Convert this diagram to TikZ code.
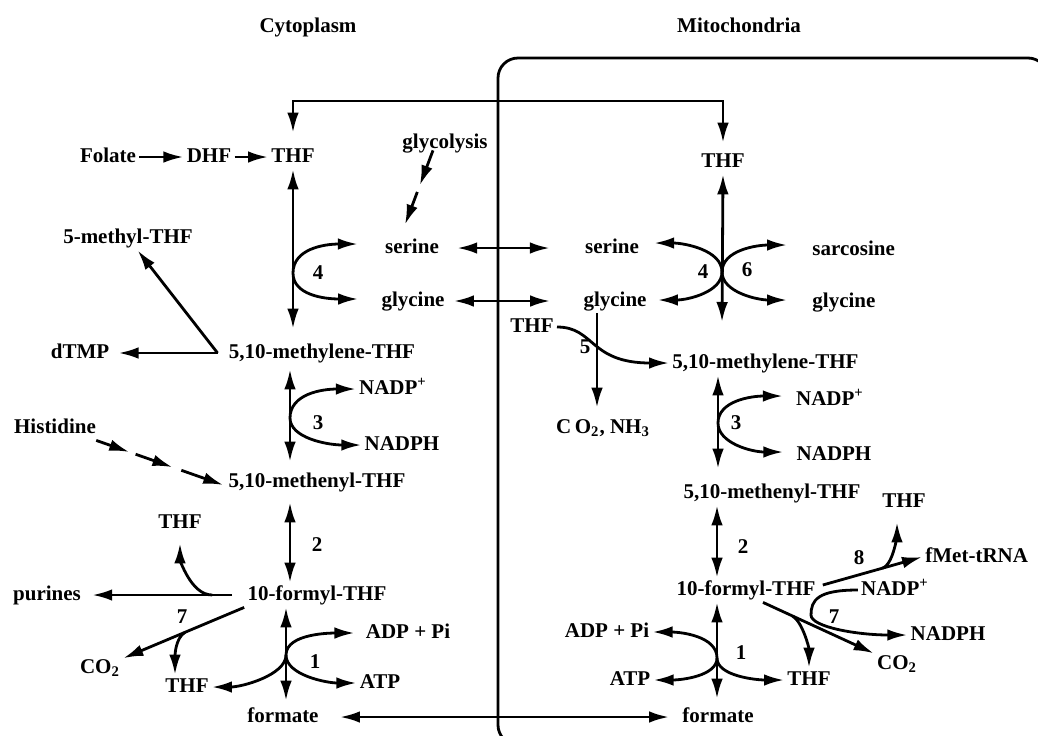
\documentclass[tikz,border=0pt]{standalone}
\usepackage{fontspec}
\setmainfont{Liberation Serif}
\usetikzlibrary{arrows.meta, positioning, calc}

\begin{document}
\begin{tikzpicture}[
    x=0.5pt, y=-0.5pt,
    font=\fontsize{10.5}{12}\selectfont\bfseries,
    >={Latex[length=10pt,width=5.8pt]},
    met/.style={inner sep=1.5pt, text height=7pt, text depth=2pt},
    enz/.style={inner sep=1pt},
    line/.style={->, line width=1.4pt},
    both/.style={<->, line width=1.4pt},
    bare/.style={line width=1.4pt}
]
\useasboundingbox (0,0) rectangle (1038,735);

% Compartments
\node[met] (cytoT) at (308,27) {Cytoplasm};
\node[met] (mitoT) at (739,27) {Mitochondria};
\draw[bare, rounded corners=10pt] (498,58) rectangle (1048,745);

% Cytoplasm metabolites
\node[met] (folate) at (108,157) {Folate};
\node[met, right=22pt of folate] (dhf) {DHF};
\node[met] (cthf) at (293,157) {THF};
\node[met] (glyco) at (445,143) {glycolysis};
\node[met] (mthfc) at (128,238) {5-methyl-THF};
\node[met] (cser) at (412,248) {serine};
\node[met] (cgly) at (413,301) {glycine};
\node[met] (dtmp) at (80,353) {dTMP};
\node[met] (cmeth) at (322,353) {5,10-methylene-THF};
\node[met] (cnadp) at (393,389) {NADP\textsuperscript{+}};
\node[met] (cnadph) at (402,445) {NADPH};
\node[met] (hist) at (55,428) {Histidine};
\node[met] (cmeny) at (317,482) {5,10-methenyl-THF};
\node[met] (cthfp) at (180,523) {THF};
\node[met] (purines) at (47,595) {purines};
\node[met] (cform) at (317,595) {10-formyl-THF};
\node[met] (cco2) at (100,668) {CO\textsubscript{2}};
\node[met] (cthfb) at (187,687) {THF};
\node[met] (cadp) at (408,633) {ADP + Pi};
\node[met] (catp) at (380,683) {ATP};
\node[met] (cfmt) at (283,717) {formate};

% Mitochondria metabolites
\node[met] (mthf) at (723,162) {THF};
\node[met] (mser) at (612,248) {serine};
\node[met] (mgly) at (615,301) {glycine};
\node[met, anchor=west] (sarc) at (809,250) {sarcosine};
\node[met, anchor=west] (mglyb) at (809,302) {glycine};
\node[met] (mthfg) at (532,327) {THF};
\node[met] (mco2n) at (603,428) {C\,O\textsubscript{2}, NH\textsubscript{3}};
\node[met, anchor=west] (mmeth) at (669,363) {5,10-methylene-THF};
\node[met] (mnadp) at (830,400) {NADP\textsuperscript{+}};
\node[met] (mnadph) at (834,455) {NADPH};
\node[met] (mmeny) at (772,493) {5,10-methenyl-THF};
\node[met] (mthft) at (904,502) {THF};
\node[met, anchor=west] (fmet) at (922,557) {fMet-tRNA};
\node[met] (mform) at (746,590) {10-formyl-THF};
\node[met] (mnadpb) at (895,590) {NADP\textsuperscript{+}};
\node[met] (mnadphb) at (948,635) {NADPH};
\node[met] (mco2) at (897,664) {CO\textsubscript{2}};
\node[met] (madp) at (607,632) {ADP + Pi};
\node[met] (matp) at (630,680) {ATP};
\node[met] (mthfb) at (809,680) {THF};
\node[met] (mfmt) at (718,717) {formate};

% Enzyme numbers
\node[enz] (c4) at (318,273) {4};
\node[enz] (c3) at (318,423) {3};
\node[enz] (c2) at (317,545) {2};
\node[enz] (c7) at (182,617) {7};
\node[enz] (c1) at (315,662) {1};
\node[enz] (m4) at (703,272) {4};
\node[enz] (m6) at (747,270) {6};
\node[enz] (m5) at (585,347) {5};
\node[enz] (m3) at (736,423) {3};
\node[enz] (m2) at (743,547) {2};
\node[enz] (m1) at (741,653) {1};
\node[enz] (m8) at (859,558) {8};
\node[enz] (m7) at (834,617) {7};

% Folate entry
\draw[line] (folate) -- (dhf);
\draw[line] (dhf) -- (cthf);

% THF across the membrane
\coordinate (xtop) at (500,101);
\draw[both, shorten <=6pt, shorten >=3.5pt] (cthf.north) |- (xtop) -| (mthf.north);

% glycolysis -> serine (dashed)
\coordinate (gs) at ($(glyco.south)+(-12,-5)$);
\coordinate (ge) at ($(cser.north)+(-7,-11)$);
\foreach \a/\b in {0/0.47, 0.56/1}
  \draw[line] ($(gs)!\a!(ge)$) -- ($(gs)!\b!(ge)$);

% Reaction 4 (cytoplasm)
\coordinate (c4m) at (293,273);
\draw[both, shorten >=6pt] (cthf.south) -- (cthf.south |- cmeth.north);
\draw[line] (c4m) .. controls +(0,-24) and +(-34,0) .. ($(cser.west)+(-24,-4)$);
\draw[line] (c4m) .. controls +(0,22) and +(-34,0) .. ($(cgly.west)+(-20,-2)$);

% serine / glycine exchange
\draw[both, shorten <=7.5pt, shorten >=16pt] (cser) -- (mser);
\draw[both, shorten <=3pt, shorten >=15pt] (cgly) -- (mgly);

% dTMP and 5-methyl-THF
\coordinate (cms) at ($(cmeth.west)+(-8,0)$);
\draw[line] (cms) -- (mthfc);
\draw[line, shorten >=3pt] (cms) -- (dtmp);

% Reaction 3 (cytoplasm)
\coordinate (c3m) at (290,418);
\draw[both, shorten <=2pt, shorten >=4pt] (cmeth.south -| c3m) -- (cmeny.north -| c3m);
\draw[line] (c3m) .. controls +(0,-24) and +(-34,0) .. (cnadp.west);
\draw[line] (c3m) .. controls +(0,20) and +(-34,0) .. (cnadph.west);

% Histidine (dashed)
\coordinate (hs) at ($(hist.south east)+(-3,0)$);
\coordinate (he) at ($(cmeny.west)+(-2,3)$);
\foreach \a/\b in {0/0.26, 0.31/0.6, 0.67/1}
  \draw[line] ($(hs)!\a!(he)$) -- ($(hs)!\b!(he)$);

% Reaction 2 (cytoplasm)
\draw[both, shorten <=4pt] (cmeny.south -| c3m) -- (cform.north -| c3m);

% purines
\coordinate (cpj) at ($(cform.west)+(-12,0)$);
\draw[line, shorten >=4pt] (cpj) -- (purines);
\coordinate (cpb) at ($(cpj)+(-20,0)$);
\draw[line, shorten >=4pt] (cpb) .. controls +(-22,0) and +(0,22) .. (cthfp.south);

% Reaction 7 (cytoplasm)
\coordinate (c7s) at (cform.south west);
\draw[line] (c7s) -- (cco2);
\coordinate (c7b) at ($(c7s)!0.41!(cco2)$);
\draw[line] (c7b) .. controls +(-10,6) and +(0,-18) .. ($(cthfb.north)+(-12,0)$);

% Reaction 1 (cytoplasm)
\coordinate (c1m) at (286,655);
\draw[both, shorten >=2pt] (cform.south -| c1m) -- (cfmt.north -| c1m);
\draw[line, shorten >=4pt] (c1m) .. controls +(0,-22) and +(-30,0) .. (cadp.west);
\draw[line] (c1m) .. controls +(0,20) and +(-30,0) .. (catp.west);
\draw[line] (c1m) .. controls +(0,20) and +(30,0) .. (cthfb.east);

% formate exchange
\draw[both, shorten <=9pt, shorten >=5pt] (cfmt) -- (mfmt);

% Reactions 4 and 6 (mitochondria)
\coordinate (m4m) at (722,272);
\coordinate (m4b) at (722,322);
\draw[both] (mthf.south) -- (m4b);
\draw[line] (m4m) .. controls +(0,-22) and +(30,0) .. ($(mser.east)+(12,-5)$);
\draw[line] (m4m) .. controls +(0,20) and +(30,0) .. ($(mgly.east)+(8,-1)$);
\draw[line] (m4m) .. controls +(0,-22) and +(-30,0) .. ($(sarc.west)+(-22,-5)$);
\draw[line] (m4m) .. controls +(0,20) and +(-30,0) .. ($(mglyb.west)+(-22,-2)$);

% Reaction 5
\coordinate (m5m) at (597,345);
\draw[line, shorten >=4pt] (mgly.south -| m5m) -- (mco2n.north -| m5m);
\draw[line] (mthfg.east) .. controls +(38,0) and +(-80,0) .. (mmeth.west);

% Reaction 3 (mitochondria)
\coordinate (m3m) at (718,423);
\draw[both, shorten >=6pt] (mmeth.south -| m3m) -- (mmeny.north -| m3m);
\draw[line] (m3m) .. controls +(0,-22) and +(-32,0) .. ($(mnadp.west)+(-10,-4)$);
\draw[line] (m3m) .. controls +(0,20) and +(-32,0) .. ($(mnadph.west)+(-10,-3)$);

% Reaction 2 (mitochondria)
\coordinate (m2x) at (717,545);
\draw[both] (mmeny.south -| m2x) -- (mform.north -| m2x);

% Reaction 1 (mitochondria)
\coordinate (m1m) at (717,658);
\draw[both, shorten >=3pt] (mform.south -| m1m) -- (mfmt.north -| m1m);
\draw[line] (m1m) .. controls +(0,-22) and +(28,0) .. (madp.east);
\draw[line] (m1m) .. controls +(0,18) and +(28,0) .. (matp.east);
\draw[line] (m1m) .. controls +(0,18) and +(-28,0) .. (mthfb.west);

% Reaction 8
\coordinate (m8s) at ($(mform.east)+(4,-5)$);
\draw[line] (m8s) -- (fmet.west);
\coordinate (m8b) at ($(m8s)!0.6!(fmet.west)$);
\draw[line, shorten >=4pt] (m8b) .. controls +(12,-4) and +(0,16) .. ($(mthft.south)+(-7,0)$);

% Reaction 7 (mitochondria)
\coordinate (m7s) at ($(mform.south)+(17,0)$);
\draw[line] (m7s) -- (mco2);
\coordinate (m7b) at ($(m7s)!0.22!(mco2)$);
\draw[line] (m7b) .. controls +(10,6) and +(0,-20) .. (mthfb.north);
\coordinate (m7c) at (811,615);
\draw[line] (mnadpb.west) .. controls +(-40,0) and +(0,-15) .. (m7c)
  .. controls +(0,12) and +(-50,0) .. (mnadphb.west);

\end{tikzpicture}
\end{document}
